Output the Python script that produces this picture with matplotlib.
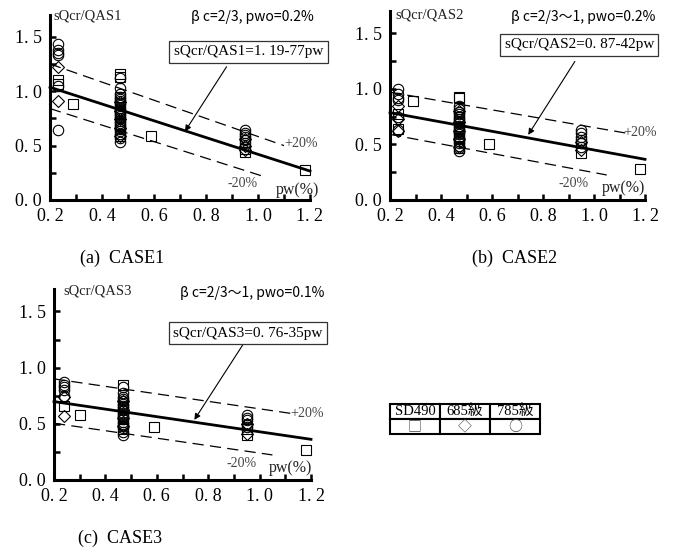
import matplotlib
matplotlib.use("Agg")
import matplotlib.pyplot as plt
from matplotlib.ticker import FixedLocator, FixedFormatter, MultipleLocator

SERIF = ["Liberation Serif", "Noto Sans CJK JP", "DejaVu Sans"]
SANS = ["Noto Sans CJK JP", "DejaVu Sans"]

xticks = [0.2, 0.4, 0.6, 0.8, 1.0, 1.2]
xtick_labels = ["0. 2", "0. 4", "0. 6", "0. 8", "1. 0", "1. 2"]
yticks = [0.0, 0.5, 1.0, 1.5]
ytick_labels = ["0. 0", "0. 5", "1. 0", "1. 5"]

# ---- CASE1 ----
sq1_x = [0.23, 0.23, 0.29, 0.47, 0.47, 0.47, 0.47, 0.47, 0.47, 0.59, 0.95, 0.95, 1.18]
sq1_y = [1.10, 1.07, 0.88, 1.16, 1.13, 0.95, 0.80, 0.70, 0.59, 0.59, 0.47, 0.44, 0.28]
dm1_x = [0.23, 0.23, 0.47, 0.47, 0.47, 0.47, 0.47, 0.95, 0.95, 0.95]
dm1_y = [1.22, 0.91, 0.90, 0.82, 0.74, 0.66, 0.59, 0.56, 0.50, 0.46]
ci1_x = [0.23] * 6 + [0.47] * 23 + [0.95] * 6
ci1_y = [1.43, 1.38, 1.35, 1.33, 1.05, 0.64,
         1.12, 1.03, 0.97, 0.95, 0.93, 0.91, 0.89, 0.87, 0.85, 0.83, 0.81, 0.79,
         0.77, 0.75, 0.73, 0.71, 0.69, 0.67, 0.65, 0.63, 0.61, 0.57, 0.53,
         0.64, 0.62, 0.60, 0.58, 0.55, 0.52]
reg1_x, reg1_y = [0.2, 1.2], [1.036, 0.266]
up1_x, up1_y = [0.2, 1.10], [1.25, 0.50]
lo1_x, lo1_y = [0.2, 1.03], [0.84, 0.21]

# ---- CASE2 ----
sq2_x = [0.23, 0.23, 0.29, 0.47, 0.47, 0.47, 0.47, 0.47, 0.47, 0.59, 0.95, 1.18]
sq2_y = [0.77, 0.64, 0.89, 0.93, 0.92, 0.75, 0.65, 0.58, 0.47, 0.50, 0.42, 0.28]
dm2_x = [0.23, 0.23, 0.23, 0.47, 0.47, 0.47, 0.47, 0.47, 0.95, 0.95]
dm2_y = [0.85, 0.73, 0.62, 0.80, 0.70, 0.62, 0.55, 0.48, 0.52, 0.45]
ci2_x = [0.23] * 6 + [0.47] * 20 + [0.95] * 6
ci2_y = [1.00, 0.95, 0.92, 0.90, 0.75, 0.63,
         0.85, 0.82, 0.79, 0.77, 0.75, 0.73, 0.71, 0.69, 0.67, 0.65, 0.63, 0.61,
         0.59, 0.57, 0.55, 0.53, 0.51, 0.49, 0.47, 0.44,
         0.63, 0.60, 0.57, 0.54, 0.51, 0.48]
reg2_x, reg2_y = [0.2, 1.2], [0.786, 0.366]
up2_x, up2_y = [0.2, 1.13], [0.97, 0.60]
lo2_x, lo2_y = [0.2, 1.05], [0.59, 0.225]

# ---- CASE3 ----
sq3_x = [0.24, 0.30, 0.47, 0.47, 0.47, 0.47, 0.59, 0.95, 0.95, 1.18]
sq3_y = [0.66, 0.58, 0.85, 0.65, 0.56, 0.45, 0.47, 0.40, 0.45, 0.27]
dm3_x = [0.24, 0.24, 0.47, 0.47, 0.47, 0.47, 0.95, 0.95]
dm3_y = [0.74, 0.57, 0.70, 0.62, 0.55, 0.48, 0.50, 0.41]
ci3_x = [0.24] * 5 + [0.47] * 19 + [0.95] * 5
ci3_y = [0.87, 0.85, 0.83, 0.80, 0.75,
         0.83, 0.77, 0.74, 0.72, 0.70, 0.68, 0.66, 0.64, 0.62, 0.60, 0.58, 0.56,
         0.54, 0.52, 0.50, 0.48, 0.46, 0.43, 0.40,
         0.58, 0.55, 0.53, 0.50, 0.47]
reg3_x, reg3_y = [0.2, 1.2], [0.698, 0.362]
up3_x, up3_y = [0.2, 1.13], [0.90, 0.59]
lo3_x, lo3_y = [0.2, 1.05], [0.505, 0.223]

W, H = 673, 551
fig = plt.figure(figsize=(W / 100, H / 100), dpi=100)


def px_axes(left, bottom, width, height):
    return fig.add_axes([left / W, 1 - bottom / H, width / W, height / H])


def draw_panel(ax, sq, dm, ci, reg, up, lo, ylab, title, eq, box_xy,
               arrow_from, arrow_to, title_xy, ylab_xy, p20, m20, pw_xy):
    ms = 7.5
    kw = dict(ls="none", mfc="none", mec="black", mew=0.8, clip_on=False, zorder=3)
    ax.plot(*sq, marker="s", ms=ms * 0.95, **kw)
    ax.plot(*dm, marker="D", ms=ms * 0.75, **kw)
    ax.plot(*ci, marker="o", ms=ms, **kw)
    ax.plot(*reg, color="black", lw=2.0, zorder=4, clip_on=False)
    ax.plot(*up, color="black", lw=0.9, dashes=(9, 5), zorder=2)
    ax.plot(*lo, color="black", lw=0.9, dashes=(9, 5), zorder=2)

    ax.set_xlim(0.2, 1.2)
    ax.set_ylim(0, 1.7)
    ax.xaxis.set_major_locator(FixedLocator(xticks))
    ax.xaxis.set_major_formatter(FixedFormatter(xtick_labels))
    ax.yaxis.set_major_locator(FixedLocator(yticks))
    ax.yaxis.set_major_formatter(FixedFormatter(ytick_labels))
    ax.xaxis.set_minor_locator(MultipleLocator(0.1))
    ax.yaxis.set_minor_locator(MultipleLocator(0.25))
    ax.tick_params(which="both", direction="in", length=4, width=1.8,
                   labelsize=13, pad=6)
    for lab in ax.get_xticklabels() + ax.get_yticklabels():
        lab.set_family(SERIF)
    for s in ["top", "right"]:
        ax.spines[s].set_visible(False)
    for s in ["left", "bottom"]:
        ax.spines[s].set_linewidth(2.2)
    ax.patch.set_alpha(0)

    ax.text(*ylab_xy, ylab, family=SERIF, fontsize=10.5, ha="left", va="center",
            color="#222")
    ax.text(*title_xy, title, family=SANS, fontsize=10, ha="right", va="center")
    ax.text(*box_xy, eq, family=SERIF, fontsize=11, ha="center", va="center",
            bbox=dict(boxstyle="square,pad=0.3", fc="white", ec="#333", lw=0.9),
            zorder=5, clip_on=False)
    ax.annotate("", xy=arrow_to, xytext=arrow_from,
                arrowprops=dict(arrowstyle="-|>", lw=0.8, color="black",
                                mutation_scale=9, shrinkA=0, shrinkB=0),
                annotation_clip=False)
    ax.text(*p20, "+20%", family=SERIF, fontsize=10, ha="center", va="center",
            color="#444")
    ax.text(*m20, "-20%", family=SERIF, fontsize=10, ha="center", va="center",
            color="#444")
    ax.text(*pw_xy, "pw(%)", family=SERIF, fontsize=11.5, ha="center", va="center",
            color="#222")


ax1 = px_axes(50, 200, 260, 185)
draw_panel(ax1, (sq1_x, sq1_y), (dm1_x, dm1_y), (ci1_x, ci1_y),
           (reg1_x, reg1_y), (up1_x, up1_y), (lo1_x, lo1_y),
           "sQcr/QAS1", "β c=2/3, pwo=0.2%", "sQcr/QAS1=1. 19-77pw",
           (0.963, 1.362), (0.879, 1.224), (0.719, 0.63),
           (1.213, 1.68), (0.213, 1.69), (1.165, 0.52), (0.94, 0.15), (1.15, 0.09))

ax2 = px_axes(390, 200, 255, 189)
draw_panel(ax2, (sq2_x, sq2_y), (dm2_x, dm2_y), (ci2_x, ci2_y),
           (reg2_x, reg2_y), (up2_x, up2_y), (lo2_x, lo2_y),
           "sQcr/QAS2", "β c=2/3～1, pwo=0.2%", "sQcr/QAS2=0. 87-42pw",
           (0.942, 1.396), (0.925, 1.246), (0.742, 0.586),
           (1.239, 1.65), (0.22, 1.667), (1.18, 0.61), (0.92, 0.15), (1.115, 0.11))

ax3 = px_axes(54, 480, 257, 191)
draw_panel(ax3, (sq3_x, sq3_y), (dm3_x, dm3_y), (ci3_x, ci3_y),
           (reg3_x, reg3_y), (up3_x, up3_y), (lo3_x, lo3_y),
           "sQcr/QAS3", "β c=2/3～1, pwo=0.1%", "sQcr/QAS3=0. 76-35pw",
           (0.954, 1.307), (0.947, 1.247), (0.746, 0.535),
           (1.252, 1.66), (0.235, 1.68), (1.185, 0.595), (0.93, 0.15), (1.12, 0.11))

# captions
for x, y, s in [(122, 258, "(a)  CASE1"), (515, 258, "(b)  CASE2"), (120, 538, "(c)  CASE3")]:
    fig.text(x / W, 1 - y / H, s, family=SERIF, fontsize=13, ha="center", va="center")

# legend table
legend_head = ["SD490", "685級", "785級"]
legend_mark = ["□", "◇", "○"]
tax = px_axes(390, 434, 150, 30)
tax.axis("off")
tbl = tax.table(cellText=[legend_head, legend_mark], cellLoc="center", bbox=[0, 0, 1, 1])
tbl.auto_set_font_size(False)
for (r, c), cell in tbl.get_celld().items():
    cell.set_linewidth(1.5)
    cell.PAD = 0.02
    if r == 0:
        cell.get_text().set_fontfamily(SERIF)
        cell.get_text().set_fontsize(10.5)
    else:
        cell.get_text().set_fontfamily(SANS)
        cell.get_text().set_fontsize(10)
        cell.get_text().set_color("#444")

fig.savefig("out.png", dpi=100)
